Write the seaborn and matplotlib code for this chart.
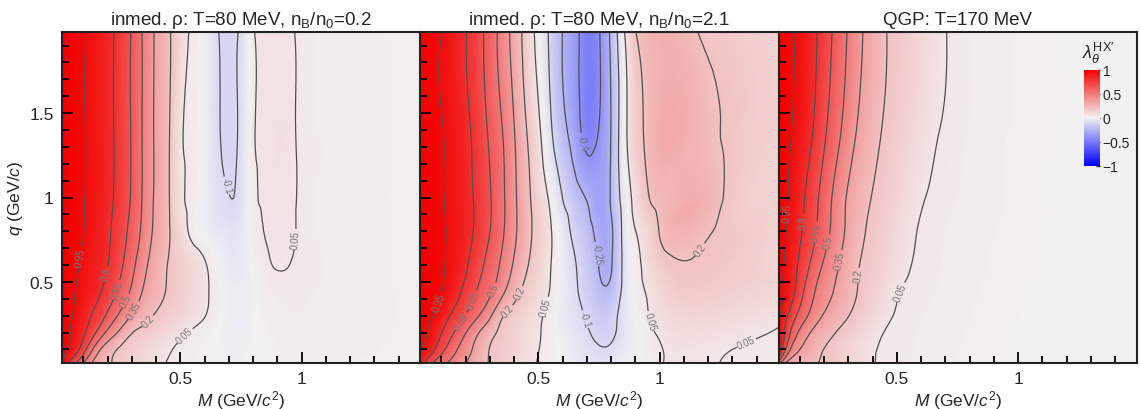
import numpy as np
import matplotlib
matplotlib.use("Agg")
import matplotlib.pyplot as plt
import matplotlib.tri as mtri
import seaborn as sns
from matplotlib.colors import LinearSegmentedColormap, Normalize
from matplotlib.cm import ScalarMappable
from matplotlib.ticker import MultipleLocator, FixedLocator

sns.set_style("ticks")
plt.rcParams['font.family'] = ['Liberation Sans', 'DejaVu Sans']
plt.rcParams['mathtext.fontset'] = 'custom'
plt.rcParams['mathtext.rm'] = 'Liberation Sans'
plt.rcParams['mathtext.it'] = 'Liberation Sans:italic'
plt.rcParams['mathtext.bf'] = 'Liberation Sans:bold'
plt.rcParams['contour.negative_linestyle'] = 'solid'

# ---------------- data ----------------
M_nodes = [0.012, 0.05, 0.1, 0.15, 0.2, 0.25, 0.3, 0.35, 0.4, 0.45, 0.5, 0.55,
           0.6, 0.65, 0.7, 0.75, 0.8, 0.85, 0.9, 0.95, 1.0, 1.15, 1.3, 1.49]
q_nodes = [0.02, 0.1, 0.2, 0.3, 0.45, 0.6, 0.8, 1.0, 1.4, 1.98]

lam_rho_02 = [
    [0.96, 0.75, 0.5, 0.3, 0.217, 0.174, 0.141, 0.109, 0.076, 0.045, 0.03, 0.015, 0.005, -0.003, -0.008, -0.008, -0.003, 0.003, 0.008, 0.012, 0.015, 0.015, 0.013, 0.01],
    [1.0, 0.911, 0.716, 0.438, 0.27, 0.185, 0.154, 0.123, 0.091, 0.06, 0.035, 0.02, 0.01, 0.0, -0.01, -0.01, -0.003, 0.005, 0.012, 0.018, 0.02, 0.02, 0.016, 0.01],
    [1.0, 0.941, 0.823, 0.657, 0.464, 0.321, 0.205, 0.167, 0.134, 0.102, 0.069, 0.04, 0.02, 0.0, -0.015, -0.015, -0.005, 0.01, 0.02, 0.025, 0.025, 0.022, 0.018, 0.01],
    [1.0, 0.957, 0.868, 0.762, 0.622, 0.472, 0.339, 0.249, 0.185, 0.152, 0.119, 0.086, 0.053, 0.015, -0.015, -0.02, -0.005, 0.015, 0.025, 0.03, 0.03, 0.025, 0.02, 0.01],
    [1.0, 0.967, 0.909, 0.841, 0.748, 0.617, 0.476, 0.336, 0.256, 0.188, 0.147, 0.106, 0.065, 0.02, -0.02, -0.025, -0.005, 0.025, 0.035, 0.038, 0.035, 0.028, 0.02, 0.01],
    [1.0, 0.974, 0.932, 0.868, 0.804, 0.686, 0.543, 0.388, 0.281, 0.195, 0.15, 0.105, 0.059, 0.01, -0.035, -0.035, 0.005, 0.04, 0.053, 0.05, 0.04, 0.03, 0.02, 0.01],
    [1.0, 0.979, 0.952, 0.888, 0.822, 0.725, 0.6, 0.451, 0.316, 0.216, 0.109, 0.025, -0.01, -0.045, -0.06, -0.045, 0.02, 0.052, 0.06, 0.058, 0.042, 0.03, 0.02, 0.01],
    [1.0, 0.982, 0.955, 0.905, 0.838, 0.752, 0.632, 0.47, 0.325, 0.215, 0.075, 0.025, -0.02, -0.07, -0.098, -0.07, 0.03, 0.058, 0.065, 0.06, 0.042, 0.03, 0.02, 0.01],
    [1.0, 0.982, 0.957, 0.905, 0.84, 0.755, 0.636, 0.472, 0.326, 0.216, 0.07, 0.03, -0.02, -0.085, -0.12, -0.075, 0.038, 0.065, 0.07, 0.06, 0.042, 0.03, 0.02, 0.01],
    [1.0, 0.982, 0.958, 0.907, 0.841, 0.756, 0.637, 0.472, 0.326, 0.217, 0.12, 0.03, -0.02, -0.09, -0.13, -0.08, 0.04, 0.065, 0.07, 0.058, 0.04, 0.03, 0.02, 0.01],
]

lam_rho_21 = [
    [0.95, 0.7, 0.55, 0.444, 0.35, 0.267, 0.193, 0.155, 0.118, 0.08, 0.045, 0.015, -0.01, -0.03, -0.05, -0.06, -0.055, -0.03, -0.005, 0.02, 0.045, 0.06, 0.045, 0.03],
    [0.97, 0.875, 0.7, 0.545, 0.412, 0.296, 0.196, 0.16, 0.123, 0.087, 0.052, 0.02, -0.01, -0.04, -0.07, -0.09, -0.085, -0.04, -0.01, 0.02, 0.045, 0.065, 0.05, 0.035],
    [0.99, 0.936, 0.805, 0.655, 0.505, 0.364, 0.246, 0.176, 0.137, 0.097, 0.058, 0.02, -0.02, -0.055, -0.09, -0.125, -0.12, -0.06, -0.01, 0.03, 0.06, 0.09, 0.07, 0.045],
    [1.0, 0.969, 0.887, 0.766, 0.642, 0.513, 0.375, 0.216, 0.159, 0.114, 0.068, 0.02, -0.03, -0.07, -0.11, -0.155, -0.14, -0.06, 0.0, 0.045, 0.085, 0.12, 0.1, 0.065],
    [1.0, 0.98, 0.954, 0.867, 0.763, 0.639, 0.532, 0.393, 0.257, 0.166, 0.105, 0.045, -0.02, -0.085, -0.14, -0.215, -0.215, -0.075, 0.015, 0.06, 0.11, 0.16, 0.14, 0.11],
    [1.0, 0.983, 0.961, 0.906, 0.818, 0.708, 0.592, 0.471, 0.332, 0.216, 0.132, 0.053, -0.02, -0.093, -0.16, -0.255, -0.26, -0.08, 0.02, 0.09, 0.15, 0.19, 0.16, 0.12],
    [1.0, 0.984, 0.962, 0.921, 0.85, 0.765, 0.652, 0.525, 0.38, 0.253, 0.149, 0.059, -0.038, -0.131, -0.2, -0.29, -0.27, -0.07, 0.048, 0.12, 0.205, 0.24, 0.17, 0.13],
    [1.0, 0.982, 0.959, 0.911, 0.846, 0.768, 0.661, 0.532, 0.381, 0.241, 0.13, 0.025, -0.102, -0.186, -0.26, -0.33, -0.235, -0.05, 0.09, 0.19, 0.23, 0.28, 0.17, 0.14],
    [1.0, 0.982, 0.957, 0.902, 0.834, 0.742, 0.625, 0.505, 0.355, 0.205, 0.075, -0.08, -0.212, -0.325, -0.45, -0.395, -0.245, -0.011, 0.144, 0.225, 0.28, 0.25, 0.18, 0.14],
    [1.0, 0.979, 0.952, 0.882, 0.807, 0.705, 0.585, 0.442, 0.292, 0.147, 0.005, -0.125, -0.252, -0.353, -0.47, -0.41, -0.22, 0.025, 0.195, 0.25, 0.275, 0.205, 0.16, 0.13],
]

lam_qgp = [
    [0.6, 0.3, 0.245, 0.215, 0.19, 0.164, 0.131, 0.098, 0.054, 0.044, 0.038, 0.032, 0.027, 0.022, 0.018, 0.015, 0.012, 0.01, 0.009, 0.007, 0.006, 0.003, 0.001, 0.0],
    [0.96, 0.575, 0.35, 0.271, 0.197, 0.162, 0.127, 0.092, 0.057, 0.045, 0.039, 0.033, 0.028, 0.023, 0.019, 0.016, 0.013, 0.011, 0.009, 0.008, 0.006, 0.003, 0.001, 0.0],
    [0.97, 0.71, 0.47, 0.336, 0.265, 0.197, 0.158, 0.12, 0.081, 0.048, 0.04, 0.034, 0.029, 0.024, 0.02, 0.017, 0.014, 0.012, 0.01, 0.008, 0.007, 0.004, 0.002, 0.0],
    [0.98, 0.8, 0.6, 0.45, 0.336, 0.268, 0.203, 0.157, 0.114, 0.071, 0.045, 0.038, 0.032, 0.027, 0.023, 0.019, 0.016, 0.013, 0.011, 0.009, 0.008, 0.004, 0.002, 0.0],
    [0.985, 0.905, 0.718, 0.536, 0.423, 0.331, 0.252, 0.186, 0.143, 0.101, 0.058, 0.045, 0.038, 0.032, 0.027, 0.022, 0.018, 0.015, 0.013, 0.011, 0.009, 0.005, 0.002, 0.0],
    [0.99, 0.915, 0.77, 0.62, 0.479, 0.371, 0.278, 0.195, 0.16, 0.125, 0.089, 0.054, 0.042, 0.035, 0.029, 0.024, 0.02, 0.017, 0.014, 0.012, 0.01, 0.006, 0.003, 0.0],
    [0.99, 0.938, 0.823, 0.697, 0.564, 0.433, 0.317, 0.227, 0.175, 0.139, 0.104, 0.068, 0.045, 0.037, 0.031, 0.026, 0.022, 0.019, 0.016, 0.013, 0.011, 0.006, 0.003, 0.0],
    [0.99, 0.953, 0.848, 0.724, 0.587, 0.451, 0.331, 0.258, 0.193, 0.159, 0.125, 0.091, 0.057, 0.045, 0.037, 0.031, 0.026, 0.021, 0.018, 0.015, 0.012, 0.007, 0.003, 0.0],
    [0.995, 0.968, 0.903, 0.809, 0.677, 0.55, 0.425, 0.318, 0.245, 0.187, 0.154, 0.123, 0.092, 0.06, 0.045, 0.037, 0.03, 0.024, 0.02, 0.016, 0.013, 0.008, 0.004, 0.0],
    [0.995, 0.972, 0.929, 0.842, 0.733, 0.606, 0.486, 0.369, 0.286, 0.209, 0.173, 0.143, 0.113, 0.082, 0.052, 0.04, 0.03, 0.024, 0.02, 0.016, 0.013, 0.008, 0.004, 0.0],
]

titles = ["inmed. \u03c1: T=80 MeV, n$_\\mathrm{B}$/n$_0$=0.2",
          "inmed. \u03c1: T=80 MeV, n$_\\mathrm{B}$/n$_0$=2.1",
          "QGP: T=170 MeV"]
contour_levels = [-0.4, -0.25, -0.1, 0.05, 0.2, 0.35, 0.5, 0.65, 0.8, 0.95]
cbar_ticks = [-1, -0.5, 0, 0.5, 1]
cbar_labels = ["\u22121", "\u22120.5", "0", "0.5", "1"]

# ---------------- layout: where the contour labels sit ----------------
label_spots = [
    [(0.082, 0.65), (0.173, 0.553), (0.227, 0.458), (0.26, 0.40), (0.30, 0.34),
     (0.35, 0.29), (0.52, 0.18), (0.665, 1.06), (0.958, 0.754)],
    [(0.095, 0.38), (0.17, 0.28), (0.253, 0.38), (0.326, 0.448), (0.356, 0.35),
     (0.432, 0.428), (0.515, 0.36), (0.694, 0.28), (0.735, 0.665),
     (0.707, 1.335), (0.99, 0.28), (1.155, 0.704), (1.348, 0.172)],
    [(0.053, 0.912), (0.122, 0.853), (0.177, 0.794), (0.226, 0.735),
     (0.274, 0.626), (0.343, 0.538), (0.515, 0.439)],
]

# ---------------- figure ----------------
cmap = LinearSegmentedColormap.from_list(
    "bgr", [(0.0, 0.0, 1.0), (0.95, 0.95, 0.95), (0.95, 0.0, 0.0)])
norm = Normalize(vmin=-1, vmax=1)

fig = plt.figure(figsize=(11.4, 4.1), dpi=100)
lefts = [62 / 1140, 420 / 1140, 778.5 / 1140]
w = 358.5 / 1140
bottom = 1 - 364 / 410
h = 331 / 410

# explicit triangulation of the rectangular node grid
Mg, Qg = np.meshgrid(M_nodes, q_nodes)
nq, nm = Mg.shape
triangles = []
for i in range(nq - 1):
    for j in range(nm - 1):
        a = i * nm + j
        b = a + 1
        c = a + nm
        d = c + 1
        triangles.append([a, b, d])
        triangles.append([a, d, c])
tri = mtri.Triangulation(Mg.ravel(), Qg.ravel(), np.array(triangles))
refiner = mtri.UniformTriRefiner(tri)


def fmt(v):
    return f"{v:g}"


for k, (lam, title) in enumerate(zip([lam_rho_02, lam_rho_21, lam_qgp], titles)):
    ax = fig.add_axes([lefts[k], bottom, w, h])
    ax.set_axisbelow(False)
    z = np.asarray(lam, dtype=float).ravel()
    tri_f, z_f = refiner.refine_field(z, subdiv=3)
    ax.tripcolor(tri_f, z_f, shading='gouraud', cmap=cmap, norm=norm,
                 rasterized=True)
    cs = ax.tricontour(tri_f, z_f, levels=contour_levels, colors='#505050',
                       linewidths=0.9, linestyles='solid')
    ax.clabel(cs, fmt=fmt, fontsize=7, colors='#767676', inline=True,
              inline_spacing=1, manual=label_spots[k])
    ax.set_xlim(0.012, 1.49)
    ax.set_ylim(0.02, 1.98)
    ax.xaxis.set_major_locator(FixedLocator([0.5, 1.0]))
    ax.set_xticklabels(["0.5", "1"])
    ax.xaxis.set_minor_locator(MultipleLocator(0.1))
    ax.yaxis.set_major_locator(FixedLocator([0.5, 1.0, 1.5]))
    ax.yaxis.set_minor_locator(MultipleLocator(0.1))
    if k == 0:
        ax.set_yticklabels(["0.5", "1", "1.5"])
        ax.set_ylabel("$q$ (GeV/$c$)", fontsize=12.5, labelpad=3)
    else:
        ax.set_yticklabels([])
    ax.tick_params(which='both', direction='in', top=False, right=False,
                   bottom=True, left=True, labelsize=12.5, width=1.3,
                   color='black')
    ax.tick_params(which='major', length=8, pad=6)
    ax.tick_params(which='minor', length=5)
    for s in ax.spines.values():
        s.set_linewidth(1.5)
        s.set_color('#222222')
        s.set_zorder(5)
    ax.set_xlabel("$M$ (GeV/$c^{2}$)", fontsize=12.5, labelpad=1)
    ax.set_title(title, fontsize=13.5, pad=6)

# colour bar inside the third panel
cax = fig.add_axes([1083.5 / 1140, 1 - 166.5 / 410, 16.5 / 1140, 95.5 / 410])
cb = fig.colorbar(ScalarMappable(norm=norm, cmap=cmap), cax=cax)
cb.set_ticks(cbar_ticks)
cb.set_ticklabels(cbar_labels)
cb.outline.set_visible(False)
cb.ax.tick_params(direction='in', length=3, width=1, labelsize=10, pad=2)
fig.text(1098 / 1140, 1 - 53 / 410, r"$\lambda_{\theta}^{\mathrm{HX}\prime}$",
         fontsize=13, ha='center', va='center')

fig.savefig("out.png", dpi=100)
